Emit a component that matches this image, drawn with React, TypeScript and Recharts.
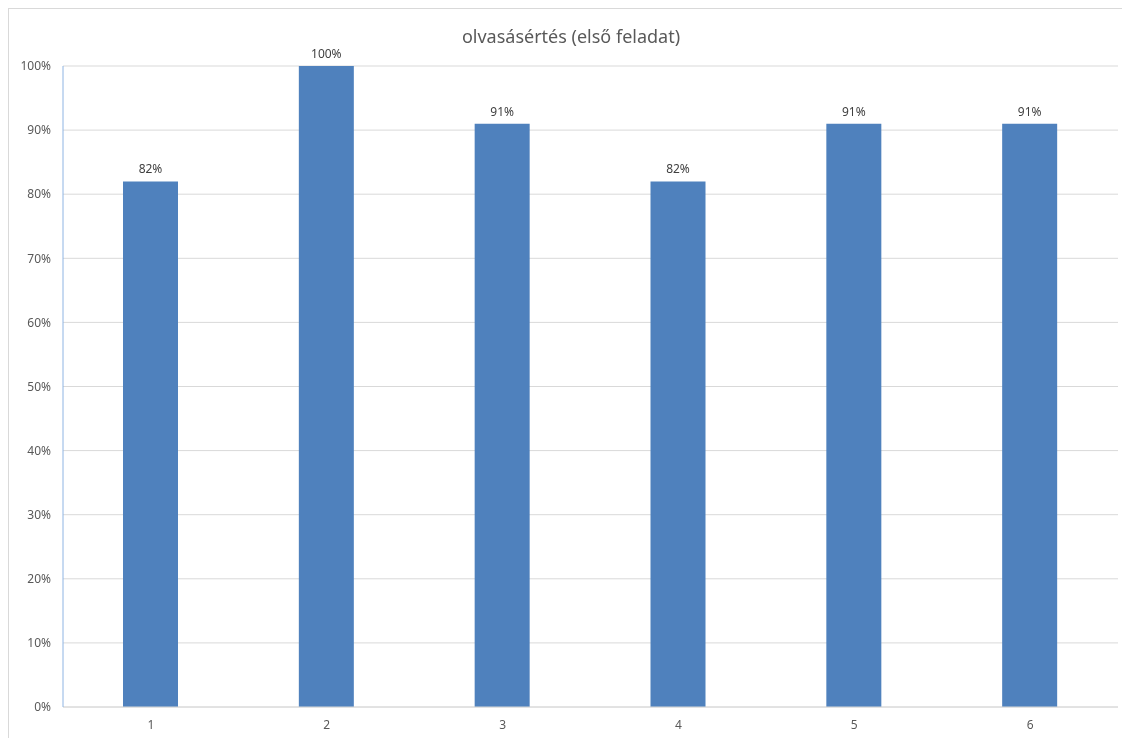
import { BarChart, Bar, XAxis, YAxis, CartesianGrid, LabelList } from 'recharts';

const categories = ['1', '2', '3', '4', '5', '6'];
const scores = [0.82, 1.0, 0.91, 0.82, 0.91, 0.91];
const yTicks = [0, 0.1, 0.2, 0.3, 0.4, 0.5, 0.6, 0.7, 0.8, 0.9, 1.0];

const data = categories.map((c, i) => ({ name: c, value: scores[i] }));

const pct = (v: number) => `${Math.round(Number(v) * 100)}%`;

export default function App() {
  return (
    <div
      style={{
        position: 'fixed',
        left: 8,
        top: 8,
        width: 1114,
        height: 730,
        borderTop: '1px solid #d9d9d9',
        borderLeft: '1px solid #d9d9d9',
        boxSizing: 'border-box',
        fontFamily: "'Noto Sans', sans-serif",
        overflow: 'hidden',
      }}
    >
      <div
        style={{
          position: 'absolute',
          left: 0,
          width: 1124,
          top: 15,
          textAlign: 'center',
          fontSize: 18,
          color: '#595959',
        }}
      >
        olvasásértés (első feladat)
      </div>
      <BarChart
        width={1113}
        height={729}
        data={data}
        margin={{ top: 57, right: 4, left: 0, bottom: 0 }}
        barSize={55}
      >
        <CartesianGrid vertical={false} stroke="#d9d9d9" />
        <XAxis
          dataKey="name"
          height={31}
          tickLine={false}
          tickSize={0}
          tickMargin={13}
          stroke="#d9d9d9"
          tick={{ fill: '#595959', fontSize: 12 }}
        />
        <YAxis
          width={54}
          domain={[0, 1]}
          ticks={yTicks}
          tickFormatter={pct}
          tickLine={false}
          tickSize={0}
          tickMargin={12}
          stroke="#8eb4e3"
          tick={{ fill: '#595959', fontSize: 12 }}
        />
        <Bar dataKey="value" fill="#4f81bd" isAnimationActive={false}>
          <LabelList dataKey="value" position="top" offset={8} formatter={pct} fill="#404040" fontSize={12} />
        </Bar>
      </BarChart>
    </div>
  );
}
